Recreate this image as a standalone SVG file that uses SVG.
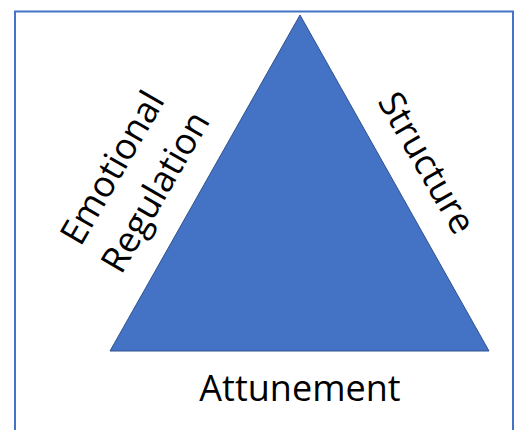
<svg xmlns="http://www.w3.org/2000/svg" width="514" height="430" viewBox="0 0 514 430">
  <style>
    .frame { fill: #ffffff; stroke: #4472C4; stroke-width: 2; }
    .tri { fill: #4472C4; stroke: #2F528F; stroke-width: 1; }
    .lbl { font-family: "Open Sans", "Liberation Sans", sans-serif; font-size: 36px; fill: #000000; text-anchor: middle; }
  </style>
  <rect width="514" height="430" fill="#ffffff"/>
  <rect class="frame" x="15" y="11.5" width="498" height="440"/>
  <g id="triangle">
    <polygon class="tri" points="300,15 110,351 489,351"/>
  </g>
  <g id="label-emotional-regulation">
    <text class="lbl" transform="translate(123,174) rotate(-60)">Emotional</text>
    <text class="lbl" transform="translate(166,198) rotate(-60)">Regulation</text>
  </g>
  <g id="label-structure">
    <text class="lbl" transform="translate(416,169) rotate(60)">Structure</text>
  </g>
  <g id="label-attunement">
    <text class="lbl" x="300" y="401">Attunement</text>
  </g>
</svg>
